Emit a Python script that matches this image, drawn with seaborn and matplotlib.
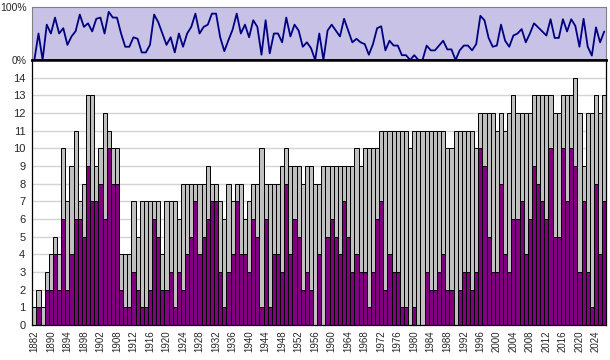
import numpy as np
import pandas as pd
import matplotlib
matplotlib.use('Agg')
import matplotlib.pyplot as plt
import seaborn as sns

# Seasons (category labels) - early years are not consecutive
years = [1882, 1884, 1886, 1888] + list(range(1890, 1903)) + [1904, 1905, 1906] + list(range(1908, 2027))

# Total count per season (gray bars)
totals = [1, 2, 1, 3, 4, 5, 4, 10, 7, 9, 11, 7, 8, 13, 13, 9, 10, 12, 11, 10,
          10, 4, 4, 4, 7, 5, 7, 7, 7, 7, 7, 4, 7, 7, 7, 6, 8, 8, 8, 8,
          8, 8, 9, 8, 8, 7, 6, 8, 7, 8, 8, 6, 7, 8, 8, 10, 8, 8, 8, 8,
          9, 10, 9, 9, 9, 8, 9, 9, 8, 8, 9, 9, 9, 9, 9, 9, 9, 9, 10, 9,
          10, 10, 10, 10, 11, 11, 11, 11, 11, 11, 11, 10, 11, 11, 11, 11, 11, 11, 11, 11,
          10, 10, 11, 11, 11, 11, 11, 10, 12, 12, 12, 12, 11, 12, 11, 12, 13, 12, 12, 12,
          12, 13, 13, 13, 13, 13, 12, 12, 13, 13, 13, 14, 12, 9, 12, 12, 13, 12, 13]

# Purple part of each bar
purple = [0, 1, 0, 2, 2, 4, 2, 6, 2, 4, 6, 6, 5, 9, 7, 7, 8, 6, 10, 8,
          8, 2, 1, 1, 3, 2, 1, 1, 2, 6, 5, 2, 2, 3, 1, 3, 2, 4, 5, 7,
          4, 5, 6, 7, 7, 3, 1, 3, 4, 7, 4, 4, 3, 6, 5, 1, 6, 1, 4, 4,
          3, 8, 4, 6, 5, 2, 3, 2, 0, 4, 0, 5, 6, 5, 4, 7, 5, 3, 4, 3,
          3, 1, 3, 6, 7, 2, 4, 3, 3, 1, 1, 0, 1, 0, 0, 3, 2, 2, 3, 4,
          2, 2, 0, 2, 3, 3, 2, 3, 10, 9, 5, 3, 3, 8, 4, 3, 6, 6, 7, 4,
          6, 9, 8, 7, 6, 10, 5, 5, 10, 7, 10, 9, 3, 7, 3, 1, 8, 4, 7]

df = pd.DataFrame({'year': [str(y) for y in years], 'total': totals, 'purple': purple})
df['pct'] = df['purple'] / df['total']
df['pos'] = np.arange(len(df))

sns.set_style('white')
plt.rcParams['font.family'] = ['Liberation Sans', 'DejaVu Sans']

fig = plt.figure(figsize=(6.1, 3.6), dpi=100)
ax_top = fig.add_axes([32.3 / 610, 300 / 360, 574 / 610, 53 / 360])
ax = fig.add_axes([32.3 / 610, 35 / 360, 574 / 610, 265 / 360])

# Bottom panel: stacked bars
ax.set_axisbelow(True)
ax.yaxis.grid(True, color='#D4D4D4', linewidth=1)
sns.barplot(data=df, x='year', y='total', color='#C0C0C0', saturation=1, width=1.0,
            edgecolor='black', linewidth=0.7, ax=ax)
sns.barplot(data=df, x='year', y='purple', color='#800080', saturation=1, width=1.0,
            edgecolor='black', linewidth=0.7, ax=ax)
ax.set_xlim(-0.5, len(df) - 0.5)
ax.set_ylim(0, 15)
ax.set_yticks(range(0, 15))
ax.set_xlabel('')
ax.set_ylabel('')
ax.set_xticks(df['pos'][::4])
ax.set_xticklabels(df['year'][::4], rotation=90, fontsize=7)
ax.set_xticks(np.arange(len(df)) - 0.5, minor=True)
ax.tick_params(axis='x', which='major', length=0, pad=4)
ax.tick_params(axis='x', which='minor', length=3, width=0.8, color='black', direction='out')
ax.tick_params(axis='y', labelsize=8, length=3, width=0.8, color='black', direction='out', pad=2)
for s in ax.spines.values():
    s.set_color('black')
    s.set_linewidth(0.9)
ax.spines['top'].set_linewidth(1.8)

# Top panel: share of purple
ax_top.set_facecolor('#C8C2E6')
sns.lineplot(data=df, x='pos', y='pct', color='#000080', linewidth=1.3, ax=ax_top)
ax_top.set_xlim(-0.5, len(df) - 0.5)
ax_top.set_ylim(0, 1)
ax_top.set_yticks([0, 1])
ax_top.set_yticklabels(['0%', '100%'], fontsize=7.5)
ax_top.set_xticks([])
ax_top.set_xlabel('')
ax_top.set_ylabel('')
ax_top.tick_params(axis='y', length=3, width=0.8, color='#808080', direction='out', pad=1)
ax_top.spines['top'].set_color('#808080')
ax_top.spines['right'].set_color('#808080')
ax_top.spines['left'].set_color('#808080')
ax_top.spines['bottom'].set_color('black')
ax_top.spines['bottom'].set_linewidth(1.8)
for s in ['top', 'right', 'left']:
    ax_top.spines[s].set_linewidth(0.8)

fig.savefig('out.png', dpi=100)
